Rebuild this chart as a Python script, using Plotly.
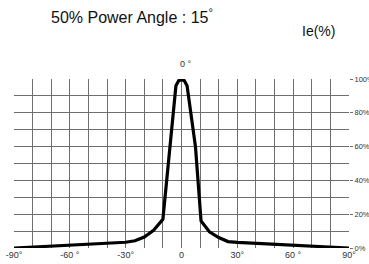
import plotly.graph_objects as go

angles = [-90, -60, -30, -25, -20, -15, -10, -3, -1.5, 0, 1.5, 3, 7.5, 10.5, 15, 20, 25, 30, 60, 90]
intensity = [0, 1.8, 3.4, 4.3, 6.5, 10.5, 17, 96, 99, 99.5, 99, 96, 60, 16, 9.6, 6.2, 3.8, 3.3, 1.8, 0]

x_tickvals = [-90, -60, -30, 0, 30, 60, 90]
x_ticktext = ["-90°", "-60 °", "-30°", "0", "30°", "60 °", "90°"]
y_tickvals = [0, 20, 40, 60, 80, 100]
y_ticktext = ["0%", "20%", "40%", "60%", "80%", "100%"]

title_text = "50% Power Angle : 15<sup>°</sup>"
unit_text = "Ie(%)"
center_text = "0 °"

L, R, T, B = 14, 349, 79, 248
W, H = 369, 264

def px(xp):
    return (xp - L) / (R - L)

def py(yp):
    return (B - yp) / (B - T)

fig = go.Figure()
fig.add_trace(go.Scatter(x=angles, y=intensity, mode="lines",
                         line=dict(color="black", width=3.2), hoverinfo="skip"))

grid_col = "#6e6e6e"
fig.update_layout(
    width=W, height=H,
    margin=dict(l=L, r=W - R, t=T, b=H - B, autoexpand=False),
    paper_bgcolor="white", plot_bgcolor="white",
    showlegend=False,
    font=dict(family="Liberation Sans, Arial, sans-serif", color="#222"),
    xaxis=dict(range=[-90, 90], tickvals=x_tickvals, ticktext=x_ticktext,
               showgrid=True, gridcolor=grid_col, gridwidth=1,
               minor=dict(dtick=10, tick0=0, showgrid=True, gridcolor=grid_col, gridwidth=1),
               zeroline=False, showline=False, ticks="", automargin=False,
               ticklabeloverflow="allow",
               tickfont=dict(size=9, color="#333"), fixedrange=True),
    yaxis=dict(range=[0, 100], tickvals=y_tickvals, ticktext=y_ticktext, side="right",
               showgrid=True, gridcolor=grid_col, gridwidth=1,
               minor=dict(dtick=10, tick0=0, showgrid=True, gridcolor=grid_col, gridwidth=1),
               zeroline=False, showline=False, ticks="outside", ticklen=3, tickcolor=grid_col,
               automargin=False, ticklabeloverflow="allow",
               tickfont=dict(size=7.5, color="#333"), fixedrange=True),
)

fig.add_annotation(text=title_text, xref="paper", yref="paper", x=px(132), y=py(16),
                   showarrow=False, font=dict(size=16, color="#111"), xanchor="center", yanchor="middle")
fig.add_annotation(text=unit_text, xref="paper", yref="paper", x=px(318), y=py(31),
                   showarrow=False, font=dict(size=14, color="#111"), xanchor="center", yanchor="middle")
fig.add_annotation(text=center_text, xref="paper", yref="paper", x=px(186), y=py(64),
                   showarrow=False, font=dict(size=9, color="#333"), xanchor="center", yanchor="middle")

fig.write_html("out.html", config={"displayModeBar": False, "staticPlot": True},
               post_script="document.body.style.margin='0';document.body.style.overflow='hidden';")
